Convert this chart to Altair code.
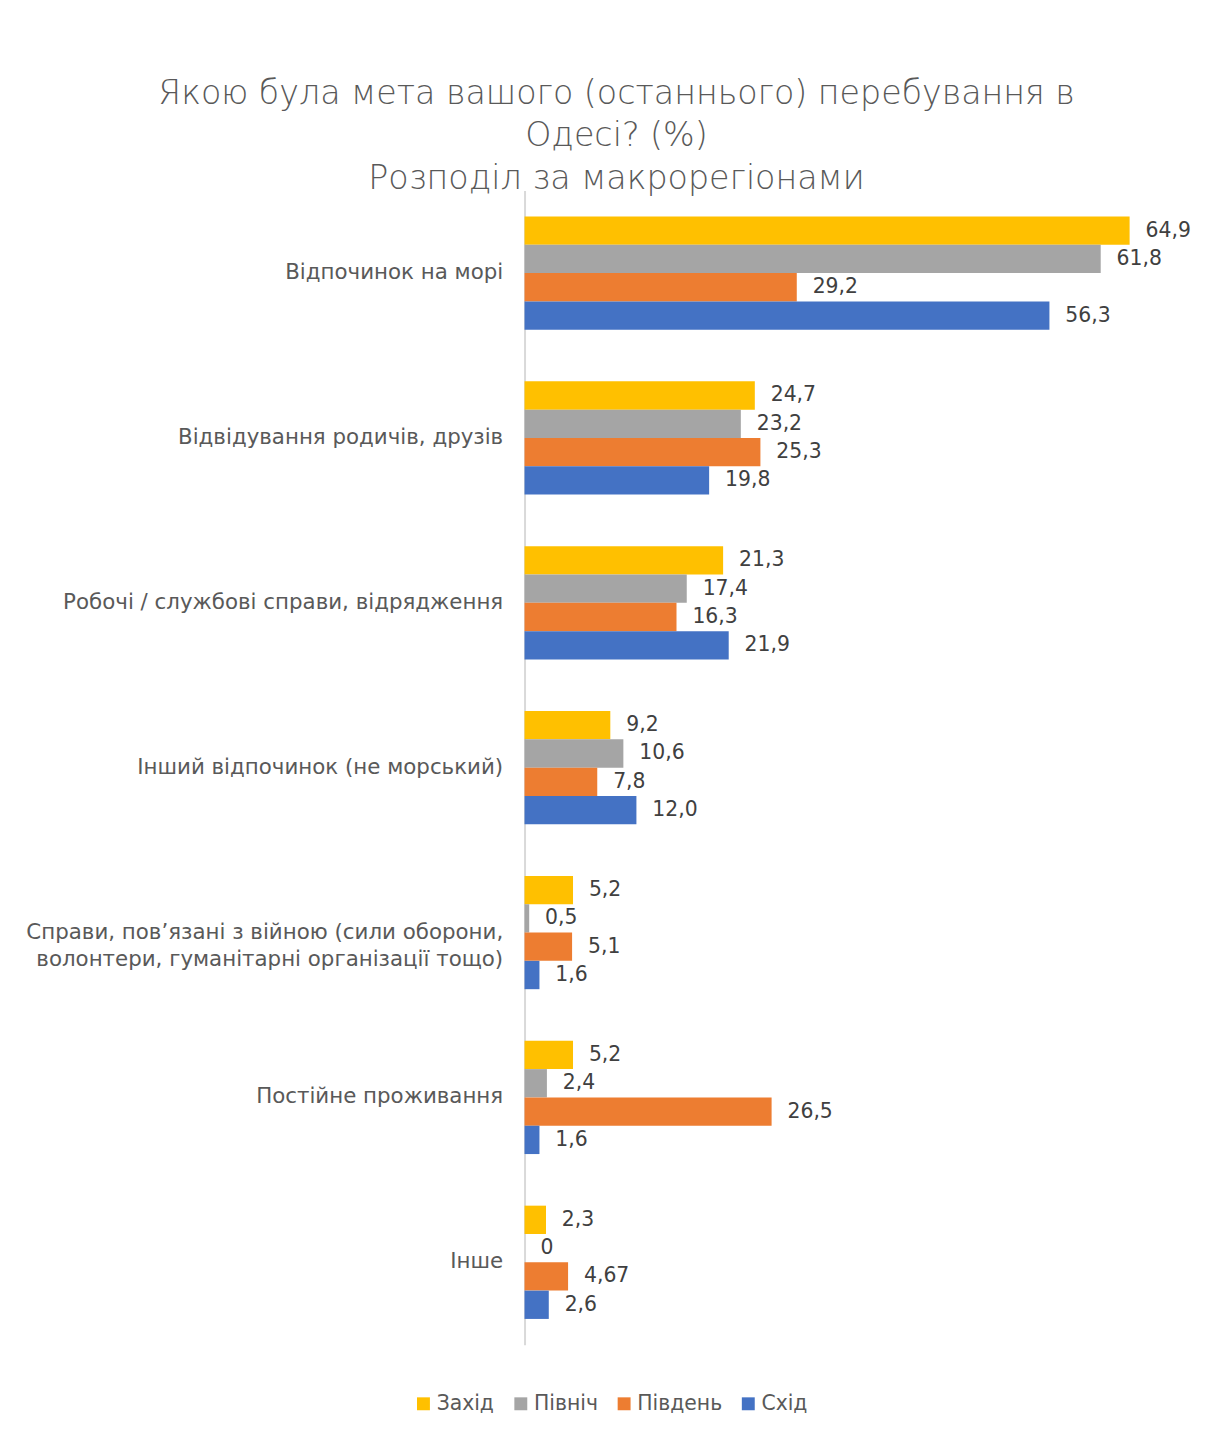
import altair as alt
import pandas as pd

categories = [
    "Відпочинок на морі",
    "Відвідування родичів, друзів",
    "Робочі / службові справи, відрядження",
    "Інший відпочинок (не морський)",
    "Справи, пов’язані з війною (сили оборони,|волонтери, гуманітарні організації тощо)",
    "Постійне проживання",
    "Інше",
]
series = ["Захід", "Північ", "Південь", "Схід"]
colors = ["#FFC000", "#A5A5A5", "#ED7D31", "#4472C4"]

zahid = [64.9, 24.7, 21.3, 9.2, 5.2, 5.2, 2.3]
pivnich = [61.8, 23.2, 17.4, 10.6, 0.5, 2.4, 0]
pivden = [29.2, 25.3, 16.3, 7.8, 5.1, 26.5, 4.67]
skhid = [56.3, 19.8, 21.9, 12.0, 1.6, 1.6, 2.6]


def fmt(v):
    if v == 0:
        return "0"
    if round(v, 1) != v:
        return f"{v:.2f}".replace(".", ",")
    return f"{v:.1f}".replace(".", ",")


rows = []
for s, vals in zip(series, [zahid, pivnich, pivden, skhid]):
    for c, v in zip(categories, vals):
        rows.append({"cat": c, "series": s, "value": v, "label": fmt(v)})
df = pd.DataFrame(rows)

FONT = "DejaVu Sans"

y_enc = alt.Y(
    "cat:N",
    sort=categories,
    title=None,
    scale=alt.Scale(paddingInner=0.313, paddingOuter=0.157),
    axis=alt.Axis(
        ticks=False,
        domainColor="#D9D9D9",
        domainWidth=2,
        labelColor="#595959",
        labelFontSize=21.5,
        labelFont=FONT,
        labelPadding=22,
        labelLimit=600,
        labelLineHeight=28,
        labelExpr="split(datum.label, '|')",
    ),
)
x_enc = alt.X("value:Q", scale=alt.Scale(domain=[0, 70]), axis=None)
yoff = alt.YOffset("series:N", sort=series)

bars = alt.Chart(df).mark_bar().encode(
    y=y_enc,
    x=x_enc,
    yOffset=yoff,
    color=alt.Color(
        "series:N",
        sort=series,
        scale=alt.Scale(domain=series, range=colors),
        legend=alt.Legend(
            orient="none",
            legendX=-112,
            legendY=1211,
            direction="horizontal",
            title=None,
            symbolType="square",
            symbolSize=169,
            symbolStrokeWidth=0,
            labelFontSize=20.5,
            labelFont=FONT,
            labelColor="#595959",
            labelOffset=3,
            columnPadding=16,
        ),
    ),
)

texts = alt.Chart(df).mark_text(
    align="left", baseline="middle", dx=16, fontSize=20.5, font=FONT, color="#404040"
).encode(
    y=alt.Y("cat:N", sort=categories),
    x=alt.X("value:Q"),
    yOffset=yoff,
    text="label:N",
)

chart = (
    alt.layer(bars, texts)
    .properties(
        width=657,
        height=1162,
        autosize=alt.AutoSizeParams(type="none"),
        padding={"left": 520, "top": 179, "right": 24, "bottom": 85},
        title=alt.TitleParams(
            text=[
                "Якою була мета вашого (останнього) перебування в",
                "Одесі? (%)",
                "Розподіл за макрорегіонами",
            ],
            fontSize=33.5,
            font=FONT,
            fontWeight=300,
            color="#595959",
            anchor="middle",
            dx=-236,
            offset=-6,
            lineHeight=43,
        ),
    )
    .configure_view(strokeWidth=0)
)

chart.save("out.html", embed_options={"renderer": "svg", "actions": False})
